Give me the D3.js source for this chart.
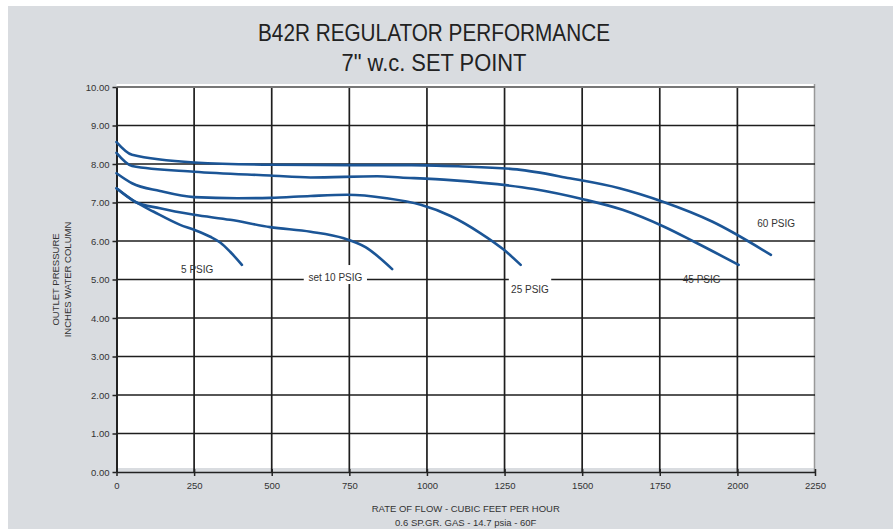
<!DOCTYPE html>
<html>
<head>
<meta charset="utf-8">
<script src="https://cdn.jsdelivr.net/npm/d3@7"></script>
<style>
	body { margin: 0; background: #fff; }
	svg { display: block; font-family: 'Liberation Sans Narrow', 'Arial Narrow', 'Liberation Sans', sans-serif; }
</style>
</head>
<body>
<main></main>
<script>
const titleLines = ['B42R REGULATOR PERFORMANCE', '7" w.c. SET POINT']
const xTicks = [0, 250, 500, 750, 1000, 1250, 1500, 1750, 2000, 2250]
const yTicks = [0, 1, 2, 3, 4, 5, 6, 7, 8, 9, 10]

// curves: [flow, pressure]
const psig60 = [[0, 8.57], [50, 8.24], [250, 8.04], [500, 7.98], [750, 7.97], [950, 7.97], [1100, 7.94], [1290, 7.86], [1460, 7.63], [1620, 7.37], [1760, 7.02], [1920, 6.50], [2108, 5.64]]
const psig45 = [[0, 8.29], [50, 7.95], [250, 7.80], [495, 7.70], [625, 7.65], [840, 7.68], [915, 7.65], [1076, 7.58], [1344, 7.35], [1500, 7.09], [1630, 6.81], [1764, 6.37], [1861, 5.98], [2004, 5.38]]
const psig25 = [[0, 7.76], [50, 7.50], [140, 7.30], [250, 7.14], [390, 7.11], [495, 7.12], [625, 7.17], [742, 7.20], [870, 7.11], [980, 6.94], [1076, 6.65], [1173, 6.20], [1248, 5.77], [1302, 5.38]]
const psig10 = [[0, 7.37], [60, 7.02], [140, 6.85], [250, 6.68], [366, 6.55], [495, 6.36], [625, 6.24], [732, 6.07], [802, 5.84], [888, 5.27]]
const psig5 = [[0, 7.37], [60, 7.02], [120, 6.76], [205, 6.42], [250, 6.29], [302, 6.11], [334, 5.96], [366, 5.72], [404, 5.38]]

const series = [psig60, psig45, psig25, psig10, psig5]
const curveLabels = [
	{ text: '5 PSIG', x: 260, y: 5.17, box: false },
	{ text: 'set 10 PSIG', x: 705, y: 4.96, box: true },
	{ text: '25 PSIG', x: 1332, y: 4.65, box: true },
	{ text: '45 PSIG', x: 1885, y: 4.92, box: false },
	{ text: '60 PSIG', x: 2125, y: 6.36, box: false },
]
const xTitle = ['RATE OF FLOW - CUBIC FEET PER HOUR', '0.6 SP.GR. GAS - 14.7 psia - 60F']
const yTitle = ['OUTLET PRESSURE', 'INCHES WATER COLUMN']

const width = 893
const height = 529
const margin = { left: 116.5, right: 78, top: 87, bottom: 57 }

const svg = d3.select('main')
	.append('svg')
	.attr('width', width)
	.attr('height', height)

// background
svg.append('rect')
	.attr('x', 8).attr('y', 6)
	.attr('width', width - 8).attr('height', height - 6)
	.attr('fill', '#d9dce0')

const xScale = d3.scaleLinear()
	.domain([0, 2250])
	.range([margin.left, width - margin.right])

const yScale = d3.scaleLinear()
	.domain([0, 10])
	.range([height - margin.bottom, margin.top])

// plot area
svg.append('rect')
	.attr('x', xScale(0))
	.attr('y', yScale(10) - 3)
	.attr('width', xScale(2250) - xScale(0))
	.attr('height', yScale(0) - yScale(10) - 1)
	.attr('fill', '#fff')

svg.append('line')
	.attr('x1', xScale(2250) - 0.5).attr('x2', xScale(2250) - 0.5)
	.attr('y1', yScale(10) - 3).attr('y2', yScale(0))
	.attr('stroke', '#999').attr('stroke-width', 1.5)

// gridlines
svg.append('g')
	.selectAll('line')
	.data(xTicks.slice(1, -1))
	.enter()
	.append('line')
	.attr('x1', d => xScale(d)).attr('x2', d => xScale(d))
	.attr('y1', yScale(10)).attr('y2', yScale(0))
	.attr('stroke', '#1e1e1e').attr('stroke-width', 1.7)

svg.append('g')
	.selectAll('line')
	.data(yTicks.slice(1))
	.enter()
	.append('line')
	.attr('x1', xScale(0)).attr('x2', xScale(2250))
	.attr('y1', d => yScale(d)).attr('y2', d => yScale(d))
	.attr('stroke', d => d === 10 ? '#777' : '#1e1e1e')
	.attr('stroke-width', d => d === 10 ? 2 : 1.7)

// axes
const xAxis = d3.axisBottom(xScale)
	.tickValues(xTicks)
	.tickSize(4)
	.tickSizeOuter(0)
	.tickFormat(d3.format('d'))

const gx = svg.append('g')
	.attr('transform', `translate(0,${yScale(0)})`)
	.call(xAxis)
gx.select('.domain').attr('stroke', '#222').attr('stroke-width', 1.5)
gx.selectAll('.tick line').attr('stroke', '#222').attr('stroke-width', 1.5).attr('y1', -3)
gx.selectAll('.tick text')
	.attr('y', 10)
	.attr('fill', '#333')
	.style('font-size', '9.5px')
	.style('font-family', "'Liberation Sans Narrow', sans-serif")

const yAxis = d3.axisLeft(yScale)
	.tickValues(yTicks)
	.tickSize(4)
	.tickSizeOuter(0)
	.tickFormat(d3.format('.2f'))

const gy = svg.append('g')
	.attr('transform', `translate(${xScale(0)},0)`)
	.call(yAxis)
gy.select('.domain').attr('stroke', '#222').attr('stroke-width', 2)
gy.selectAll('.tick line').attr('stroke', '#222').attr('stroke-width', 1.5)
gy.selectAll('.tick text')
	.attr('x', -7)
	.attr('fill', '#333')
	.style('font-size', '9.5px')
	.style('font-family', "'Liberation Sans Narrow', sans-serif")

// curve labels (white box hides the gridline under some of them)
const labelG = svg.append('g')
labelG.selectAll('rect')
	.data(curveLabels.filter(d => d.box))
	.enter()
	.append('rect')
	.attr('x', d => xScale(d.x) - (d.text.length * 2.6 + 3))
	.attr('y', d => yScale(d.y) - 16)
	.attr('width', d => d.text.length * 5.2 + 6)
	.attr('height', 19)
	.attr('fill', '#fff')

// series lines
const line = d3.line()
	.x(d => xScale(d[0]))
	.y(d => yScale(d[1]))
	.curve(d3.curveMonotoneX)

svg.append('g')
	.selectAll('path')
	.data(series)
	.enter()
	.append('path')
	.attr('d', line)
	.attr('fill', 'none')
	.attr('stroke', '#1b5596')
	.attr('stroke-width', 2.6)
	.attr('stroke-linecap', 'round')

labelG.raise()
labelG.selectAll('text')
	.data(curveLabels)
	.enter()
	.append('text')
	.attr('x', d => xScale(d.x))
	.attr('y', d => yScale(d.y))
	.attr('text-anchor', 'middle')
	.attr('fill', '#333')
	.style('font-size', '10px')
	.text(d => d.text)

// titles
svg.append('g')
	.selectAll('text')
	.data(titleLines)
	.enter()
	.append('text')
	.attr('x', 434)
	.attr('y', (d, i) => 41 + i * 30)
	.attr('text-anchor', 'middle')
	.attr('fill', '#222')
	.attr('textLength', (d, i) => i === 0 ? 352 : 185)
	.attr('lengthAdjust', 'spacingAndGlyphs')
	.style('font-size', '24px')
	.text(d => d)

svg.append('g')
	.selectAll('text')
	.data(xTitle)
	.enter()
	.append('text')
	.attr('x', (xScale(0) + xScale(2250)) / 2)
	.attr('y', (d, i) => 512 + i * 14)
	.attr('text-anchor', 'middle')
	.attr('fill', '#333')
	.style('font-size', '9.5px')
	.text(d => d)

svg.append('g')
	.selectAll('text')
	.data(yTitle)
	.enter()
	.append('text')
	.attr('transform', (d, i) => `translate(${59 + i * 12},${(yScale(0) + yScale(10)) / 2}) rotate(-90)`)
	.attr('text-anchor', 'middle')
	.attr('fill', '#333')
	.style('font-size', '9.5px')
	.text(d => d)
</script>
</body>
</html>
